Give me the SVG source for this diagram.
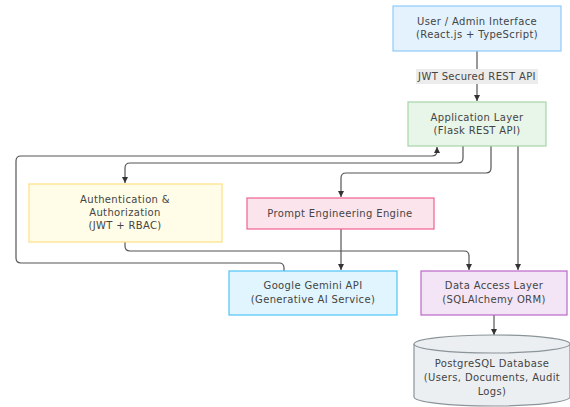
<svg xmlns="http://www.w3.org/2000/svg" width="570" height="407" viewBox="0 0 570 407">
<defs>
<marker id="arr" markerUnits="userSpaceOnUse" markerWidth="7" markerHeight="7" refX="6" refY="3.5" orient="auto">
<path d="M0,0.5 L6,3.5 L0,6.5 Z" fill="#333"/>
</marker>
<style>
.t{font-family:"DejaVu Sans","Liberation Sans",sans-serif;font-size:10px;letter-spacing:0.35px;fill:#444;text-anchor:middle}
.e{fill:none;stroke:#555;stroke-width:1.2;marker-end:url(#arr)}
</style>
</defs>
<rect width="570" height="407" fill="#fff"/>
<g id="connectors">
<path class="e" d="M477,51 V101"/>
<path class="e" d="M463,146 V158 Q463,163 458,163 H130 Q125,163 125,168 V183"/>
<path class="e" d="M491,146 V168 Q491,173 486,173 H346 Q341,173 341,178 V197"/>
<path class="e" d="M518,146 V270"/>
<path class="e" d="M125,242 V246 Q125,251 130,251 H464 Q469,251 469,256 V270"/>
<path class="e" d="M341,229 V270"/>
<path class="e" d="M284,271 V268 Q284,263 279,263 H21 Q16,263 16,258 V161 Q16,156 21,156 H432 Q437,156 437,151 V147"/>
<path class="e" d="M494,315 V335"/>
<g id="edge-label">
<rect x="416" y="69" width="122" height="15" fill="#ececec"/>
<text class="t" x="477" y="80">JWT Secured REST API</text>
</g>
</g>
<g id="user-interface">
<rect x="393" y="6" width="168" height="45" fill="#e3f2fd" stroke="#90caf9" stroke-width="1.2"/>
<text class="t" x="477" y="25">User / Admin Interface</text>
<text class="t" x="477" y="38">(React.js + TypeScript)</text>
</g>
<g id="application-layer">
<rect x="408" y="102" width="138" height="44" fill="#e8f5e9" stroke="#a5d6a7" stroke-width="1.2"/>
<text class="t" x="477" y="121">Application Layer</text>
<text class="t" x="477" y="134">(Flask REST API)</text>
</g>
<g id="auth">
<rect x="29" y="184" width="193" height="58" fill="#fffde7" stroke="#ffe082" stroke-width="1.2"/>
<text class="t" x="125" y="203">Authentication &amp;</text>
<text class="t" x="125" y="216">Authorization</text>
<text class="t" x="125" y="229">(JWT + RBAC)</text>
</g>
<g id="prompt-engine">
<rect x="247" y="198" width="187" height="31" fill="#fce4ec" stroke="#f06292" stroke-width="1.2"/>
<text class="t" x="340" y="217">Prompt Engineering Engine</text>
</g>
<g id="gemini">
<rect x="229" y="271" width="168" height="44" fill="#e1f5fe" stroke="#4fc3f7" stroke-width="1.2"/>
<text class="t" x="313" y="289">Google Gemini API</text>
<text class="t" x="313" y="303">(Generative AI Service)</text>
</g>
<g id="data-access">
<rect x="421" y="271" width="146" height="44" fill="#f3e5f5" stroke="#ba68c8" stroke-width="1.2"/>
<text class="t" x="494" y="289">Data Access Layer</text>
<text class="t" x="494" y="303">(SQLAlchemy ORM)</text>
</g>
<g id="database">
<path d="M414,344 A78,9 0 0 1 570,344 V397 A78,9 0 0 1 414,397 Z" fill="#eceff1" stroke="#8a9499" stroke-width="1.2"/>
<path d="M414,344 A78,9 0 0 0 570,344" fill="none" stroke="#8a9499" stroke-width="1.2"/>
<text class="t" x="492" y="367">PostgreSQL Database</text>
<text class="t" x="492" y="381">(Users, Documents, Audit</text>
<text class="t" x="492" y="395">Logs)</text>
</g>
</svg>
